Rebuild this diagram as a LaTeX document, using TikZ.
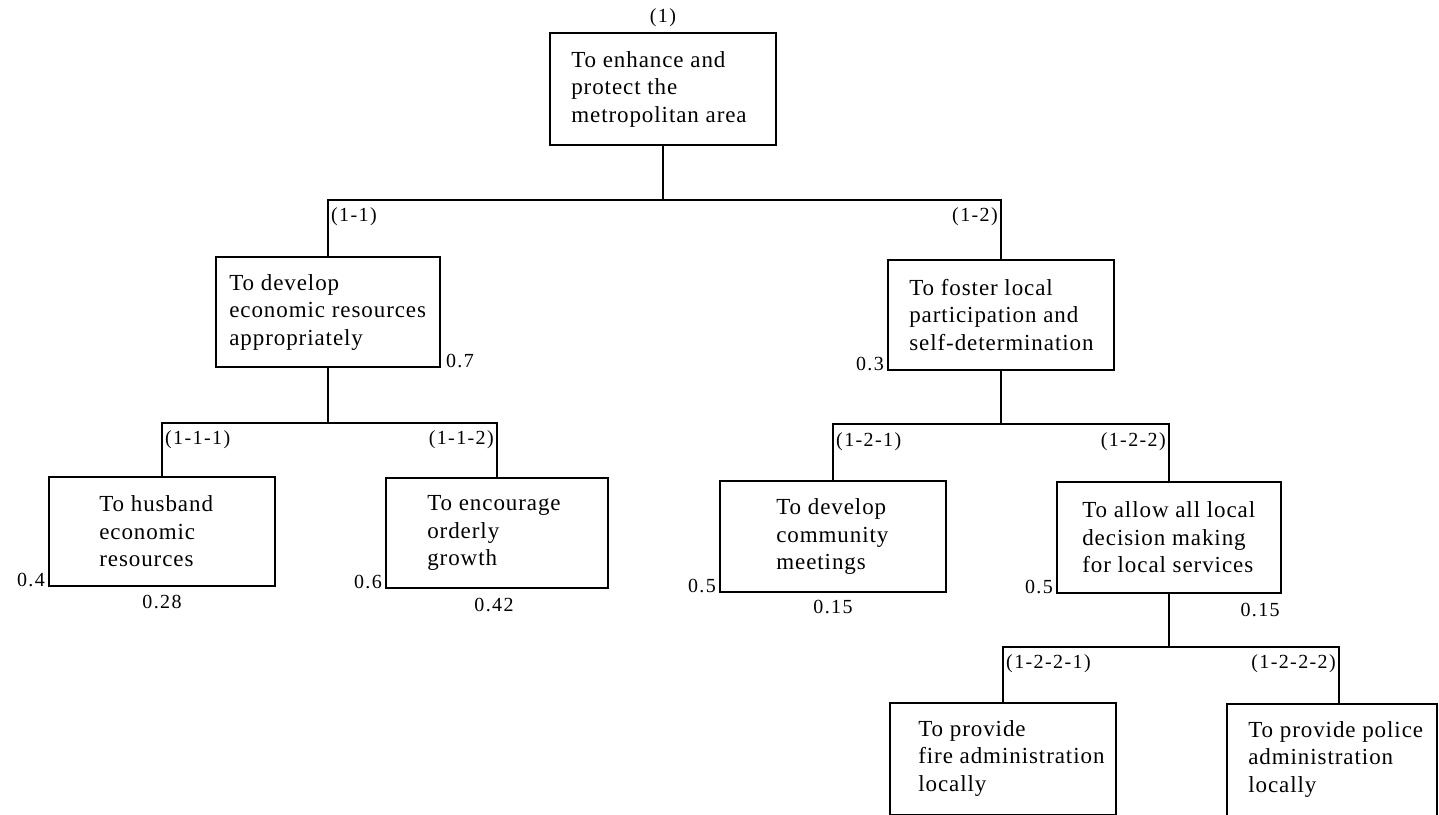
\documentclass[tikz,border=0pt]{standalone}
\usepackage{fontspec}
\newfontfamily\boxfont[LetterSpace=4]{Liberation Serif}
\newfontfamily\lblfont[LetterSpace=7]{Liberation Serif}
\begin{document}
\begin{tikzpicture}[x=1pt,y=-1pt,
  box/.style={draw, line width=1.8pt, inner sep=0pt},
  txt/.style={anchor=west, align=left, inner sep=0pt, font=\boxfont\fontsize{23}{27.5}\selectfont},
  lbl/.style={inner sep=0pt, font=\lblfont\fontsize{20}{24}\selectfont},
  conn/.style={line width=1.8pt}]
\useasboundingbox[fill=white] (0,0) rectangle (1439,814);

% boxes
\node[box, minimum width=226pt, minimum height=112pt] (n1) at (663,89) {};
\node[txt] (n1t) at ([xshift=22pt]n1.west) {To enhance and\\protect the\\metropolitan area};

\node[box, minimum width=224pt, minimum height=110pt] (n11) at (328,312) {};
\node[txt] (n11t) at ([xshift=14pt]n11.west) {To develop\\economic resources\\appropriately};

\node[box, minimum width=226pt, minimum height=110pt] (n12) at (1001,315) {};
\node[txt] (n12t) at ([xshift=22pt]n12.west) {To foster local\\participation and\\self-determination};

\node[box, minimum width=226pt, minimum height=109pt] (n111) at (162,531.5) {};
\node[txt] (n111t) at ([xshift=51pt]n111.west) {To husband\\economic\\resources};

\node[box, minimum width=222pt, minimum height=110pt] (n112) at (497,533) {};
\node[txt] (n112t) at ([xshift=42pt]n112.west) {To encourage\\orderly\\growth};

\node[box, minimum width=226pt, minimum height=111pt] (n121) at (833,536.5) {};
\node[txt] (n121t) at ([xshift=57pt]n121.west) {To develop\\community\\meetings};

\node[box, minimum width=224pt, minimum height=111pt] (n122) at (1169,537.5) {};
\node[txt] (n122t) at ([xshift=26pt]n122.west) {To allow all local\\decision making\\for local services};

\node[box, minimum width=226pt, minimum height=112pt] (n1221) at (1003,759) {};
\node[txt] (n1221t) at ([xshift=29pt,yshift=1pt]n1221.west) {To provide\\fire administration\\locally};

\node[box, minimum width=210pt, minimum height=112pt] (n1222) at (1332,760) {};
\node[txt] (n1222t) at ([xshift=22pt,yshift=1pt]n1222.west) {To provide police\\administration\\locally};

% bar levels
\coordinate (b1) at (0,200);
\coordinate (b2l) at (0,423);
\coordinate (b2r) at (0,424);
\coordinate (b3) at (0,647);
\coordinate (n1222top) at (1339,704);

% connectors
\draw[conn] (n1.south) -- (n1.south |- b1);
\draw[conn] (n11.north) -- (n11.north |- b1) -- (n12.north |- b1) -- (n12.north);
\draw[conn] (n11.south) -- (n11.south |- b2l);
\draw[conn] (n111.north) -- (n111.north |- b2l) -- (n112.north |- b2l) -- (n112.north);
\draw[conn] (n12.south) -- (n12.south |- b2r);
\draw[conn] (n121.north) -- (n121.north |- b2r) -- (n122.north |- b2r) -- (n122.north);
\draw[conn] (n122.south) -- (n122.south |- b3);
\draw[conn] (n1221.north) -- (n1221.north |- b3) -- (n1222top |- b3) -- (n1222top);

% code labels
\node[lbl, anchor=base] (l1) at (n1.north) [yshift=10pt] {(1)};
\node[lbl, anchor=base west, xshift=3pt, yshift=-21pt] (l11) at (n11.north |- b1) {(1-1)};
\node[lbl, anchor=base east, xshift=-3pt, yshift=-21pt] (l12) at (n12.north |- b1) {(1-2)};
\node[lbl, anchor=base west, xshift=3pt, yshift=-21pt] (l111) at (n111.north |- b2l) {(1-1-1)};
\node[lbl, anchor=base east, xshift=-3pt, yshift=-21pt] (l112) at (n112.north |- b2l) {(1-1-2)};
\node[lbl, anchor=base west, xshift=3pt, yshift=-22pt] (l121) at (n121.north |- b2r) {(1-2-1)};
\node[lbl, anchor=base east, xshift=-3pt, yshift=-22pt] (l122) at (n122.north |- b2r) {(1-2-2)};
\node[lbl, anchor=base west, xshift=3pt, yshift=-21pt] (l1221) at (n1221.north |- b3) {(1-2-2-1)};
\node[lbl, anchor=base east, xshift=-3pt, yshift=-21pt] (l1222) at (n1222top |- b3) {(1-2-2-2)};

% weights
\node[lbl, anchor=base west, xshift=5pt] (w11) at (n11.south east) {0.7};
\node[lbl, anchor=base east, xshift=-3pt] (w12) at (n12.south west) {0.3};
\node[lbl, anchor=base east, xshift=-3pt] (w111) at (n111.south west) {0.4};
\node[lbl, anchor=base, yshift=-22pt] (g111) at (n111.south) {0.28};
\node[lbl, anchor=base east, xshift=-3pt] (w112) at (n112.south west) {0.6};
\node[lbl, anchor=base, yshift=-23pt, xshift=-3pt] (g112) at (n112.south) {0.42};
\node[lbl, anchor=base east, xshift=-3pt] (w121) at (n121.south west) {0.5};
\node[lbl, anchor=base, yshift=-21pt] (g121) at (n121.south) {0.15};
\node[lbl, anchor=base east, xshift=-3pt] (w122) at (n122.south west) {0.5};
\node[lbl, anchor=base east, yshift=-23pt, xshift=-2pt] (g122) at (n122.south east) {0.15};
\end{tikzpicture}
\end{document}
